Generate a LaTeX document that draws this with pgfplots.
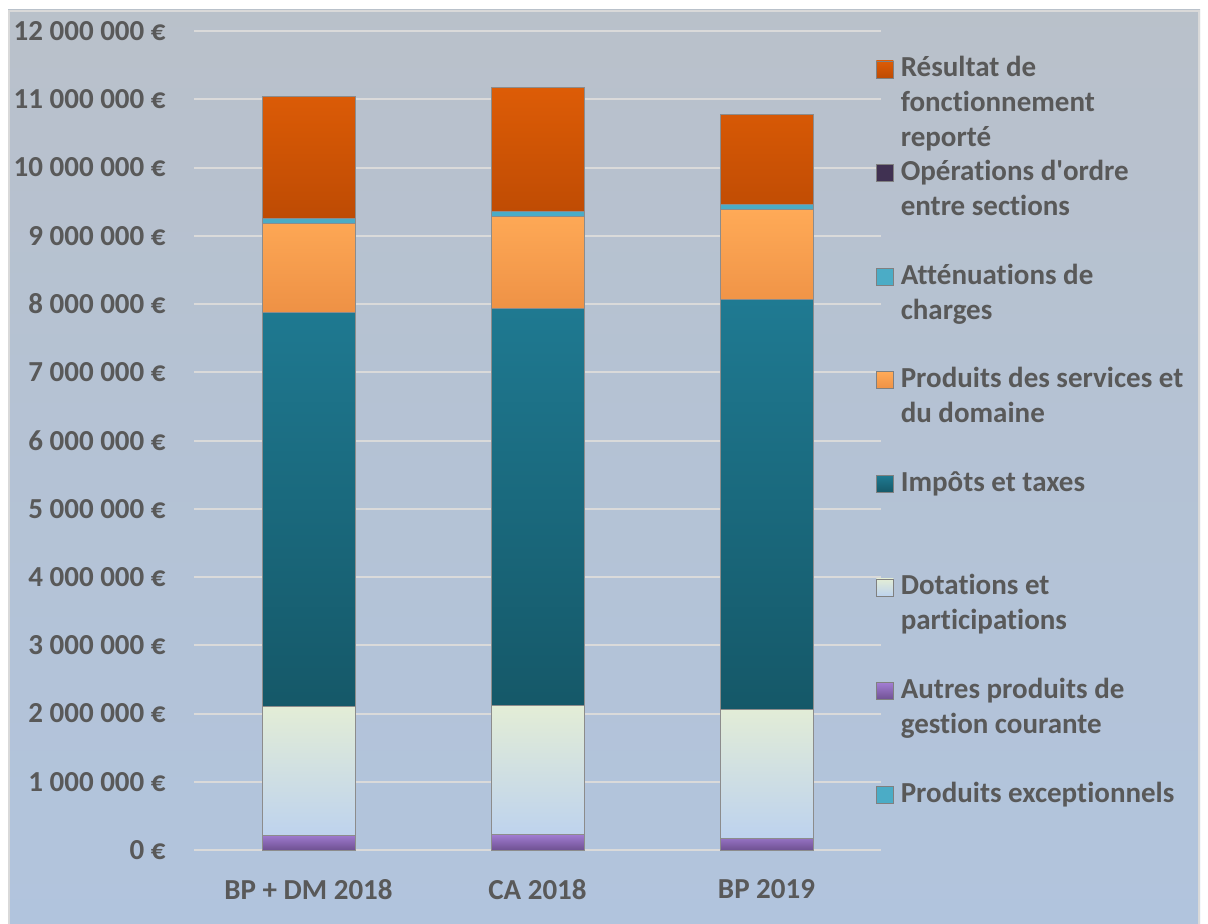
\documentclass[border=0pt]{standalone}
\usepackage{fontspec}
\setmainfont{Carlito}[Ligatures={NoCommon}]
\usepackage{pgfplots}
\usepackage{pgfplotstable}
\pgfplotsset{compat=1.18}

% colours
\definecolor{txt}{HTML}{595959}
\definecolor{gridc}{HTML}{DADADA}
\definecolor{framec}{HTML}{D9D9D9}
\definecolor{bgA}{HTML}{C6D7EC}
\definecolor{bgB}{HTML}{B0C5E1}
\definecolor{bgC}{HTML}{B5C2D3}
\definecolor{bgD}{HTML}{BFBFBF}
\definecolor{cExc}{HTML}{4BACC6}
\definecolor{cAutT}{HTML}{A27DD3}
\definecolor{cAutB}{HTML}{6F5192}
\definecolor{cDotT}{HTML}{E3EDD6}
\definecolor{cDotB}{HTML}{BDD2EE}
\definecolor{cImpT}{HTML}{1F7A92}
\definecolor{cImpB}{HTML}{155868}
\definecolor{cSerT}{HTML}{FFAA57}
\definecolor{cSerB}{HTML}{EE9145}
\definecolor{cAtt}{HTML}{4BACC6}
\definecolor{cOrd}{HTML}{403152}
\definecolor{cResT}{HTML}{DD5C06}
\definecolor{cResB}{HTML}{BE4B04}

\pgfdeclareverticalshading{chartbg}{100bp}{color(0bp)=(bgA); color(14bp)=(bgB); color(55bp)=(bgC); color(100bp)=(bgD)}

% Recettes de fonctionnement (euros)
\pgfplotstableread{
x exc aut dot imp serv att ord res
0 0 215000 1885000 5775000 1310000 70000 0 1780000
1 0 232000 1888000 5810000 1358000 73000 0 1806000
2 0 168000 1895000 6005000 1317000 78000 0 1307000
}\budget

\newcommand\lgtext[1]{\parbox[t][51.8pt][t]{160pt}{\raggedright\rule{0pt}{12pt}#1}}

\begin{document}
\begin{tikzpicture}
\useasboundingbox (0,0) rectangle (604pt,461.5pt);
\shade[shading=chartbg] (4pt,0pt) rectangle (600pt,456.5pt);
\draw[framec, line width=1pt] (4.5pt,-1pt) -- (4.5pt,456pt) -- (599.5pt,456pt) -- (599.5pt,-1pt);
\begin{axis}[
  at={(97pt,36.5pt)}, anchor=south west,
  scale only axis, width=343.5pt, height=409.5pt,
  ybar stacked, bar width=46.5pt,
  xmin=-0.5, xmax=2.5, ymin=0, ymax=12000000,
  xtick=data, xticklabels={BP + DM 2018, CA 2018, BP 2019},
  ytick={0,1000000,2000000,3000000,4000000,5000000,6000000,7000000,8000000,9000000,10000000,11000000,12000000},
  yticklabels={0 €,1 000 000 €,2 000 000 €,3 000 000 €,4 000 000 €,5 000 000 €,6 000 000 €,7 000 000 €,8 000 000 €,9 000 000 €,10 000 000 €,11 000 000 €,12 000 000 €},
  scaled y ticks=false,
  /pgf/number format/assume math mode=true,
  major tick length=0pt,
  axis line style={draw=none},
  ymajorgrids, grid style={gridc, line width=1pt},
  tick label style={font=\fontsize{14.5}{17}\selectfont\bfseries, text=txt, inner sep=0pt},
  yticklabel style={anchor=east, xshift=-14pt},
  xticklabel style={anchor=north, yshift=-14.5pt},
  every axis plot/.append style={draw=black!45, line width=0.5pt},
  every axis plot post/.append style={
    legend image code/.code={\draw[##1, draw=black!50, line width=0.4pt] (0pt,-0.5pt) rectangle (8.5pt,8pt);}},
  reverse legend,
  legend cell align=left,
  legend style={at={(axis description cs:0.9927,0.9732)}, anchor=north west,
    draw=none, fill=none, inner sep=0pt, outer sep=0pt, row sep=0pt,
    font=\fontsize{14.5}{17.5}\selectfont\bfseries, text=txt,
    cells={anchor=base west}, nodes={inner sep=0pt, text depth=},
    /tikz/every odd column/.append style={column sep=3.5pt}},
]
\addplot[fill=cExc, draw=none] table[x=x, y=exc] {\budget};
\addlegendentry{\lgtext{Produits exceptionnels}}
\addplot[top color=cAutT, bottom color=cAutB] table[x=x, y=aut] {\budget};
\addlegendentry{\lgtext{Autres produits de\\gestion courante}}
\addplot[top color=cDotT, bottom color=cDotB] table[x=x, y=dot] {\budget};
\addlegendentry{\lgtext{Dotations et\\participations}}
\addplot[top color=cImpT, bottom color=cImpB] table[x=x, y=imp] {\budget};
\addlegendentry{\lgtext{Impôts et taxes}}
\addplot[top color=cSerT, bottom color=cSerB] table[x=x, y=serv] {\budget};
\addlegendentry{\lgtext{Produits des services et\\du domaine}}
\addplot[fill=cAtt] table[x=x, y=att] {\budget};
\addlegendentry{\lgtext{Atténuations de\\charges}}
\addplot[fill=cOrd, draw=none] table[x=x, y=ord] {\budget};
\addlegendentry{\lgtext{Opérations d\textquotesingle ordre\\entre sections}}
\addplot[top color=cResT, bottom color=cResB] table[x=x, y=res] {\budget};
\addlegendentry{\lgtext{Résultat de\\fonctionnement\\reporté}}
\end{axis}
\end{tikzpicture}
\end{document}
